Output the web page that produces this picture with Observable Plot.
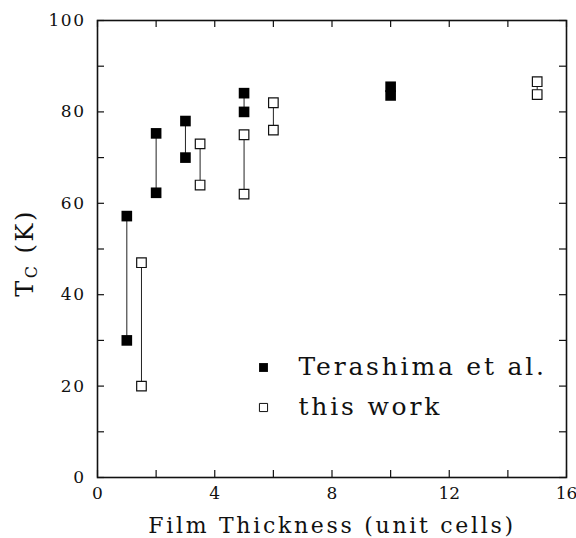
<!DOCTYPE html>
<html>
<head>
<meta charset="utf-8">
<script src="https://cdn.jsdelivr.net/npm/d3@7"></script>
<script src="https://cdn.jsdelivr.net/npm/@observablehq/plot@0.6"></script>
<style>
  html, body { margin: 0; padding: 0; background: #fff; }
  #chart { width: 576px; height: 538px; }
</style>
</head>
<body>
<div id="chart"></div>
<script>
// Critical temperature vs. film thickness (unit cells)
const terashimaThickness = [1, 1, 2, 2, 3, 3, 5, 5, 10, 10];
const terashimaTc        = [57.2, 30, 75.3, 62.3, 78, 70, 84.1, 80, 85.5, 83.6];
const thisWorkThickness  = [1.5, 1.5, 3.5, 3.5, 5, 5, 6, 6, 15, 15];
const thisWorkTc         = [47, 20, 73, 64, 75, 62, 82, 76, 86.6, 83.8];

const xTicks = [0, 2, 4, 6, 8, 10, 12, 14, 16];
const xLabels = [0, 4, 8, 12, 16];
const yTicks = [0, 10, 20, 30, 40, 50, 60, 70, 80, 90, 100];
const yLabels = [0, 20, 40, 60, 80, 100];

const seriesNames = ["Terashima et al.", "this work"];
const xTitle = "Film Thickness (unit cells)";

const terashima = terashimaThickness.map((t, i) => ({t, tc: terashimaTc[i]}));
const thisWork = thisWorkThickness.map((t, i) => ({t, tc: thisWorkTc[i]}));

// vertical connectors spanning each pair of measurements at the same thickness
const spans = rows => d3.rollups(rows, v => [d3.min(v, d => d.tc), d3.max(v, d => d.tc)], d => d.t)
  .map(([t, [lo, hi]]) => ({t, lo, hi}));

const font = "'DejaVu Serif', serif";
const W = 576, H = 538;
const M = {left: 97, right: 10, top: 20, bottom: 61};
const xDomain = [0, 16], yDomain = [0, 100];
const innerW = W - M.left - M.right;
const innerH = H - M.top - M.bottom;
const tickLen = 7;
// tick length expressed in data units along each axis
const tickX = tickLen / innerW * (xDomain[1] - xDomain[0]);
const tickY = tickLen / innerH * (yDomain[1] - yDomain[0]);

const tickStyle = {stroke: "#111", strokeWidth: 1.2};

const plot = Plot.plot({
  width: W,
  height: H,
  marginLeft: M.left,
  marginRight: M.right,
  marginTop: M.top,
  marginBottom: M.bottom,
  style: {fontFamily: font, background: "#fff", color: "#111", overflow: "visible"},
  x: {domain: xDomain},
  y: {domain: yDomain},
  marks: [
    // inward ticks on all four sides of the box
    Plot.ruleX(xTicks, {x: d => d, y1: yDomain[0], y2: yDomain[0] + tickY, ...tickStyle}),
    Plot.ruleX(xTicks, {x: d => d, y1: yDomain[1] - tickY, y2: yDomain[1], ...tickStyle}),
    Plot.ruleY(yTicks, {y: d => d, x1: xDomain[0], x2: xDomain[0] + tickX, ...tickStyle}),
    Plot.ruleY(yTicks, {y: d => d, x1: xDomain[1] - tickX, x2: xDomain[1], ...tickStyle}),
    Plot.frame({stroke: "#111", strokeWidth: 1.6}),
    // tick labels
    Plot.axisX({anchor: "bottom", ticks: xLabels, tickSize: 0, tickPadding: 9, fontSize: 17, label: null}),
    Plot.axisY({anchor: "left", ticks: yLabels, tickSize: 0, tickPadding: 12, fontSize: 17, label: null}),
    // data
    Plot.ruleX(spans(terashima), {x: "t", y1: "lo", y2: "hi", stroke: "#222", strokeWidth: 1}),
    Plot.ruleX(spans(thisWork), {x: "t", y1: "lo", y2: "hi", stroke: "#222", strokeWidth: 1}),
    Plot.dot(terashima, {x: "t", y: "tc", symbol: "square", r: 6, fill: "#000", stroke: "none"}),
    Plot.dot(thisWork, {x: "t", y: "tc", symbol: "square", r: 5.4, fill: "#fff", stroke: "#111", strokeWidth: 1.2}),
    // legend
    Plot.dot([seriesNames[0]], {frameAnchor: "top-left", dx: 166, dy: 347, symbol: "square", r: 5, fill: "#000"}),
    Plot.dot([seriesNames[1]], {frameAnchor: "top-left", dx: 166, dy: 387, symbol: "square", r: 4.6, fill: "#fff", stroke: "#111", strokeWidth: 1}),
    Plot.text([seriesNames[0]], {frameAnchor: "top-left", dx: 201, dy: 346, text: d => d, textAnchor: "start", lineAnchor: "middle", fontSize: 25, fill: "#111", className: "legend-label"}),
    Plot.text([seriesNames[1]], {frameAnchor: "top-left", dx: 201, dy: 386, text: d => d, textAnchor: "start", lineAnchor: "middle", fontSize: 25, fill: "#111", className: "legend-label"}),
    Plot.text([xTitle], {frameAnchor: "bottom", dy: 48, text: d => d, lineAnchor: "middle", fontSize: 22, fill: "#111", className: "x-title"})
  ]
});

document.getElementById("chart").appendChild(plot);

const svg = d3.select(plot);
// wide, typewriter-like letter spacing for the y tick labels, legend and axis title
svg.selectAll("[aria-label^='y-axis tick label'] text").style("letter-spacing", "1.5px");
svg.selectAll(".legend-label text").style("letter-spacing", "2.8px");
svg.selectAll(".x-title text").style("letter-spacing", "2.7px");

// y-axis title with subscript
const ylab = svg.append("text")
  .attr("transform", "translate(33,253) rotate(-90)")
  .attr("text-anchor", "middle")
  .attr("font-family", font)
  .attr("font-size", 24)
  .attr("letter-spacing", "2.5px")
  .attr("fill", "#111");
ylab.append("tspan").text("T");
ylab.append("tspan").attr("font-size", 16).attr("dy", 4).text("C");
ylab.append("tspan").attr("dy", -4).text(" (K)");
</script>
</body>
</html>
